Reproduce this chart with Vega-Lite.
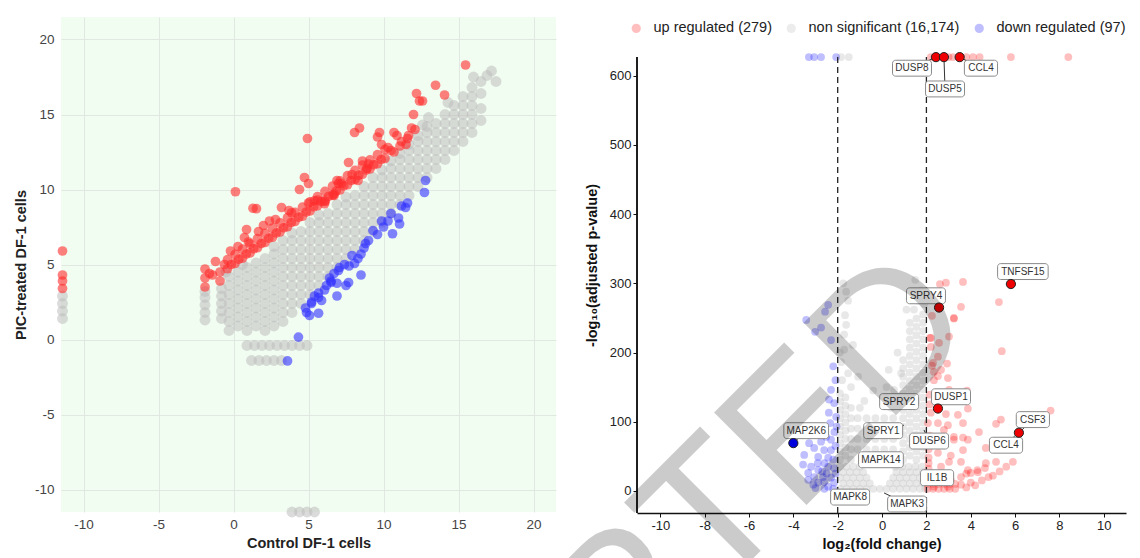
{
"$schema":"https://vega.github.io/schema/vega-lite/v6.json",
"padding":{"left":13,"top":17,"right":5,"bottom":5},
"background":"#ffffff",
"config":{"font":"Liberation Sans","concat":{"spacing":81},"axis":{"labelFont":"Liberation Sans","titleFont":"Liberation Sans"},"legend":{"labelFont":"Liberation Sans"}},
"resolve":{"scale":{"color":"independent"},"legend":{"color":"independent"}},
"bounds":"flush",
"datasets":{
"lg":[
{"x":-0.3,"y":0.6},{"x":-0.3,"y":1.2},{"x":-0.3,"y":1.8},{"x":-0.3,"y":2.4},{"x":-0.3,"y":3.0},{"x":-0.3,"y":3.6},{"x":-0.3,"y":4.2},
{"x":0.3,"y":0.9},{"x":0.3,"y":1.5},{"x":0.3,"y":2.1},{"x":0.3,"y":2.7},{"x":0.3,"y":3.3},{"x":0.3,"y":3.9},{"x":0.3,"y":4.5},
{"x":0.9,"y":0.6},{"x":0.9,"y":1.2},{"x":0.9,"y":1.8},{"x":0.9,"y":2.4},{"x":0.9,"y":3.0},{"x":0.9,"y":3.6},{"x":0.9,"y":4.2},{"x":0.9,"y":4.8},
{"x":1.5,"y":0.9},{"x":1.5,"y":1.5},{"x":1.5,"y":2.1},{"x":1.5,"y":2.7},{"x":1.5,"y":3.3},{"x":1.5,"y":3.9},{"x":1.5,"y":4.5},{"x":1.5,"y":5.1},
{"x":2.1,"y":0.6},{"x":2.1,"y":1.2},{"x":2.1,"y":1.8},{"x":2.1,"y":2.4},{"x":2.1,"y":3.0},{"x":2.1,"y":3.6},{"x":2.1,"y":4.2},{"x":2.1,"y":4.8},{"x":2.1,"y":5.4},
{"x":2.7,"y":0.9},{"x":2.7,"y":1.5},{"x":2.7,"y":2.1},{"x":2.7,"y":2.7},{"x":2.7,"y":3.3},{"x":2.7,"y":3.9},{"x":2.7,"y":4.5},{"x":2.7,"y":5.1},{"x":2.7,"y":5.7},{"x":2.7,"y":6.2},
{"x":3.3,"y":1.2},{"x":3.3,"y":1.8},{"x":3.3,"y":2.4},{"x":3.3,"y":3.0},{"x":3.3,"y":3.6},{"x":3.3,"y":4.2},{"x":3.3,"y":4.8},{"x":3.3,"y":5.4},{"x":3.3,"y":6.0},{"x":3.3,"y":6.6},
{"x":3.9,"y":1.8},{"x":3.9,"y":2.4},{"x":3.9,"y":3.0},{"x":3.9,"y":3.6},{"x":3.9,"y":4.2},{"x":3.9,"y":4.8},{"x":3.9,"y":5.4},{"x":3.9,"y":6.0},{"x":3.9,"y":6.6},{"x":3.9,"y":7.1},
{"x":4.5,"y":2.4},{"x":4.5,"y":3.0},{"x":4.5,"y":3.6},{"x":4.5,"y":4.2},{"x":4.5,"y":4.8},{"x":4.5,"y":5.4},{"x":4.5,"y":6.0},{"x":4.5,"y":6.6},{"x":4.5,"y":7.2},
{"x":5.1,"y":3.0},{"x":5.1,"y":3.6},{"x":5.1,"y":4.2},{"x":5.1,"y":4.8},{"x":5.1,"y":5.4},{"x":5.1,"y":6.0},{"x":5.1,"y":6.6},{"x":5.1,"y":7.2},{"x":5.1,"y":7.8},
{"x":5.7,"y":3.6},{"x":5.7,"y":4.2},{"x":5.7,"y":4.8},{"x":5.7,"y":5.4},{"x":5.7,"y":6.0},{"x":5.7,"y":6.6},{"x":5.7,"y":7.2},{"x":5.7,"y":7.8},{"x":5.7,"y":8.3},
{"x":6.3,"y":4.2},{"x":6.3,"y":4.8},{"x":6.3,"y":5.4},{"x":6.3,"y":6.0},{"x":6.3,"y":6.6},{"x":6.3,"y":7.2},{"x":6.3,"y":7.8},{"x":6.3,"y":8.4},
{"x":6.9,"y":4.8},{"x":6.9,"y":5.4},{"x":6.9,"y":6.0},{"x":6.9,"y":6.6},{"x":6.9,"y":7.2},{"x":6.9,"y":7.8},{"x":6.9,"y":8.4},{"x":6.9,"y":9.0},
{"x":7.5,"y":5.4},{"x":7.5,"y":6.0},{"x":7.5,"y":6.6},{"x":7.5,"y":7.2},{"x":7.5,"y":7.8},{"x":7.5,"y":8.4},{"x":7.5,"y":9.0},{"x":7.5,"y":9.5},
{"x":8.1,"y":6.0},{"x":8.1,"y":6.6},{"x":8.1,"y":7.2},{"x":8.1,"y":7.8},{"x":8.1,"y":8.4},{"x":8.1,"y":9.0},{"x":8.1,"y":9.6},
{"x":8.7,"y":6.6},{"x":8.7,"y":7.2},{"x":8.7,"y":7.8},{"x":8.7,"y":8.4},{"x":8.7,"y":9.0},{"x":8.7,"y":9.6},{"x":8.7,"y":10.2},
{"x":9.3,"y":7.2},{"x":9.3,"y":7.8},{"x":9.3,"y":8.4},{"x":9.3,"y":9.0},{"x":9.3,"y":9.6},{"x":9.3,"y":10.2},{"x":9.3,"y":10.8},
{"x":9.9,"y":7.8},{"x":9.9,"y":8.4},{"x":9.9,"y":9.0},{"x":9.9,"y":9.6},{"x":9.9,"y":10.2},{"x":9.9,"y":10.8},{"x":9.9,"y":11.3},
{"x":10.5,"y":8.4},{"x":10.5,"y":9.0},{"x":10.5,"y":9.6},{"x":10.5,"y":10.2},{"x":10.5,"y":10.8},{"x":10.5,"y":11.4},{"x":10.5,"y":11.9},
{"x":11.1,"y":9.0},{"x":11.1,"y":9.6},{"x":11.1,"y":10.2},{"x":11.1,"y":10.8},{"x":11.1,"y":11.4},{"x":11.1,"y":12.0},{"x":11.1,"y":12.4},
{"x":11.7,"y":9.6},{"x":11.7,"y":10.2},{"x":11.7,"y":10.8},{"x":11.7,"y":11.4},{"x":11.7,"y":12.0},{"x":11.7,"y":12.6},{"x":11.7,"y":13.0},
{"x":12.3,"y":10.2},{"x":12.3,"y":10.8},{"x":12.3,"y":11.4},{"x":12.3,"y":12.0},{"x":12.3,"y":12.6},{"x":12.3,"y":13.2},{"x":12.3,"y":13.6},
{"x":12.9,"y":10.8},{"x":12.9,"y":11.4},{"x":12.9,"y":12.0},{"x":12.9,"y":12.6},{"x":12.9,"y":13.2},{"x":12.9,"y":13.8},{"x":12.9,"y":14.2},
{"x":13.5,"y":11.4},{"x":13.5,"y":12.0},{"x":13.5,"y":12.6},{"x":13.5,"y":13.2},{"x":13.5,"y":13.8},{"x":13.5,"y":14.4},
{"x":14.1,"y":12.0},{"x":14.1,"y":12.6},{"x":14.1,"y":13.2},{"x":14.1,"y":13.8},{"x":14.1,"y":14.4},{"x":14.1,"y":15.0},
{"x":14.7,"y":12.6},{"x":14.7,"y":13.2},{"x":14.7,"y":13.8},{"x":14.7,"y":14.4},{"x":14.7,"y":15.0},{"x":14.7,"y":15.6},
{"x":15.3,"y":13.2},{"x":15.3,"y":13.8},{"x":15.3,"y":14.4},{"x":15.3,"y":15.0},{"x":15.3,"y":15.6},{"x":15.3,"y":16.2},
{"x":15.9,"y":13.8},{"x":15.9,"y":14.4},{"x":15.9,"y":15.0},{"x":15.9,"y":15.6},{"x":15.9,"y":16.2},{"x":15.9,"y":16.8},
{"x":16.5,"y":14.6},{"x":16.5,"y":15.4},{"x":16.5,"y":16.4},{"x":16.5,"y":17.2},
{"x":17.2,"y":17.9},{"x":16.9,"y":17.6},{"x":17.5,"y":17.2},{"x":16.0,"y":17.5},{"x":13.0,"y":14.8},{"x":14.3,"y":15.8},{"x":12.6,"y":14.3},{"x":0.6,"y":5.0},{"x":-0.5,"y":4.5},
{"x":-11.4,"y":1.4},{"x":-11.4,"y":1.9},{"x":-11.4,"y":2.4},{"x":-11.4,"y":2.9},
{"x":-1.9,"y":1.3},{"x":-1.9,"y":1.8},{"x":-1.9,"y":2.3},{"x":-1.9,"y":2.8},{"x":-1.9,"y":3.2},
{"x":-0.8,"y":1.4},{"x":-0.8,"y":1.9},{"x":-0.8,"y":2.4},{"x":-0.8,"y":2.9},{"x":-0.8,"y":3.4},
{"x":0.9,"y":-0.4},{"x":1.4,"y":-0.4},{"x":1.9,"y":-0.4},{"x":2.4,"y":-0.4},{"x":2.9,"y":-0.4},{"x":3.4,"y":-0.4},{"x":3.9,"y":-0.4},{"x":4.4,"y":-0.4},{"x":4.9,"y":-0.4},
{"x":1.2,"y":-1.4},{"x":1.7,"y":-1.4},{"x":2.2,"y":-1.4},{"x":2.7,"y":-1.4},{"x":3.2,"y":-1.4},
{"x":3.9,"y":-11.5},{"x":4.4,"y":-11.5},{"x":4.9,"y":-11.5},{"x":5.4,"y":-11.5}
],
"lr":[
{"x":-11.4,"y":3.4},{"x":-11.4,"y":3.9},{"x":-11.4,"y":4.3},{"x":-11.4,"y":5.9},
{"x":-1.9,"y":3.5},{"x":-1.9,"y":4.1},{"x":-1.9,"y":4.7},{"x":-1.6,"y":4.4},{"x":-0.9,"y":3.9},{"x":-0.9,"y":4.5},{"x":-0.6,"y":5.0},{"x":-1.2,"y":5.2},{"x":-1.4,"y":4.3},
{"x":0.13,"y":9.85},{"x":1.53,"y":8.72},{"x":1.3,"y":8.75},{"x":0.87,"y":7.33},{"x":1.67,"y":7.2},{"x":0.73,"y":6.8},{"x":3.2,"y":8.8},{"x":2.8,"y":8.0},{"x":3.87,"y":8.45},
{"x":4.73,"y":10.8},{"x":5.0,"y":10.4},{"x":4.4,"y":10.0},{"x":5.0,"y":9.1},{"x":5.6,"y":9.3},{"x":6.1,"y":9.2},{"x":6.7,"y":9.6},{"x":7.0,"y":10.4},{"x":7.67,"y":11.8},
{"x":15.47,"y":18.3},{"x":13.47,"y":16.95},{"x":14.07,"y":16.3},{"x":12.2,"y":16.4},{"x":12.4,"y":15.9},{"x":12.6,"y":15.9},{"x":12.0,"y":15.0},{"x":11.87,"y":14.1},{"x":11.67,"y":13.6},
{"x":4.93,"y":13.4},{"x":8.4,"y":14.1},{"x":8.07,"y":13.8},{"x":9.73,"y":13.8},{"x":9.6,"y":13.5},{"x":10.7,"y":13.8},{"x":10.9,"y":13.6},{"x":9.87,"y":13.0},{"x":10.3,"y":12.8},
{"x":8.6,"y":11.9},{"x":9.0,"y":11.7},{"x":8.9,"y":11.4},{"x":6.9,"y":10.6},{"x":7.2,"y":10.4},{"x":7.9,"y":11.0},{"x":8.3,"y":10.6},{"x":3.7,"y":8.6},{"x":5.4,"y":9.25},{"x":6.07,"y":9.05},{"x":6.7,"y":9.7},
{"x":2.0,"y":7.6},{"x":2.4,"y":7.9},{"x":0.3,"y":6.2},{"x":-0.2,"y":5.9},{"x":1.0,"y":6.5},{"x":11.2,"y":13.2},{"x":10.5,"y":12.6},{"x":11.5,"y":13.0},
{"x":-0.4,"y":4.72},{"x":-0.4,"y":5.32},{"x":0.1,"y":5.07},{"x":0.1,"y":5.67},{"x":0.6,"y":5.42},{"x":0.6,"y":6.02},{"x":1.1,"y":5.77},{"x":1.1,"y":6.37},
{"x":1.6,"y":6.12},{"x":1.6,"y":6.72},{"x":2.1,"y":6.47},{"x":2.1,"y":7.07},{"x":2.6,"y":6.82},{"x":2.6,"y":7.42},{"x":3.1,"y":7.17},{"x":3.1,"y":7.77},
{"x":3.6,"y":7.52},{"x":3.6,"y":8.12},{"x":4.1,"y":7.87},{"x":4.1,"y":8.47},{"x":4.6,"y":8.22},{"x":4.6,"y":8.82},{"x":5.1,"y":8.57},{"x":5.1,"y":9.17},
{"x":5.6,"y":8.92},{"x":5.6,"y":9.52},{"x":6.1,"y":9.27},{"x":6.1,"y":9.87},{"x":6.6,"y":9.62},{"x":6.6,"y":10.22},{"x":7.1,"y":9.97},{"x":7.1,"y":10.57},
{"x":7.6,"y":10.32},{"x":7.6,"y":10.92},{"x":8.1,"y":10.67},{"x":8.1,"y":11.27},{"x":8.6,"y":11.02},{"x":8.6,"y":11.62},{"x":9.1,"y":11.37},{"x":9.1,"y":11.97},
{"x":9.6,"y":11.72},{"x":9.6,"y":12.32},{"x":10.1,"y":12.07},{"x":10.1,"y":12.67},{"x":10.7,"y":12.5},{"x":11.1,"y":12.9},{"x":11.6,"y":13.4},{"x":12.1,"y":14.0},
{"x":-0.15,"y":5.0},{"x":0.35,"y":5.35},{"x":0.85,"y":5.7},{"x":1.35,"y":6.05},{"x":1.85,"y":6.4},{"x":2.35,"y":6.75},{"x":2.85,"y":7.1},{"x":3.35,"y":7.45},{"x":3.85,"y":7.8},{"x":4.35,"y":8.15},
{"x":4.85,"y":8.5},{"x":5.35,"y":8.85},{"x":5.85,"y":9.2},{"x":6.35,"y":9.55},{"x":6.85,"y":9.9},{"x":7.35,"y":10.25},{"x":7.85,"y":10.6},{"x":8.35,"y":10.95},{"x":8.85,"y":11.3},{"x":9.35,"y":11.65},{"x":9.85,"y":12.0}
],
"lb":[
{"x":12.8,"y":10.6},{"x":12.73,"y":9.8},{"x":11.6,"y":9.1},{"x":11.47,"y":8.8},{"x":11.2,"y":8.9},{"x":10.5,"y":8.4},{"x":11.0,"y":8.1},{"x":10.3,"y":7.9},{"x":9.87,"y":7.9},
{"x":10.6,"y":7.05},{"x":11.07,"y":7.7},{"x":9.3,"y":7.26},{"x":9.0,"y":6.6},{"x":8.7,"y":6.1},{"x":8.5,"y":5.7},{"x":8.3,"y":5.4},{"x":8.07,"y":5.07},{"x":7.7,"y":4.9},
{"x":7.07,"y":4.8},{"x":6.7,"y":4.4},{"x":6.4,"y":4.1},{"x":8.5,"y":4.3},{"x":6.5,"y":3.8},{"x":6.9,"y":3.75},{"x":7.5,"y":3.6},{"x":7.67,"y":3.8},{"x":6.07,"y":3.3},
{"x":5.67,"y":2.8},{"x":5.2,"y":2.4},{"x":5.87,"y":2.6},{"x":6.9,"y":2.9},{"x":4.87,"y":1.8},{"x":5.07,"y":1.6},{"x":5.67,"y":1.75},{"x":4.33,"y":0.16},{"x":3.6,"y":-1.43},
{"x":7.0,"y":4.6},{"x":6.5,"y":3.9},{"x":5.67,"y":3.1},{"x":5.2,"y":2.5},{"x":9.6,"y":7.0},{"x":10.0,"y":7.5},{"x":8.8,"y":6.4},{"x":7.9,"y":5.6},{"x":7.4,"y":5.0},{"x":6.2,"y":3.6},{"x":5.4,"y":2.9},{"x":4.8,"y":2.1}
],
"rg":[
{"x":-1.9,"y":3},{"x":-1.6,"y":3},{"x":-1.3,"y":3},{"x":-1.0,"y":3},{"x":-0.7,"y":3},{"x":-0.4,"y":3},{"x":-0.1,"y":3},{"x":0.2,"y":3},{"x":0.5,"y":3},{"x":0.8,"y":3},{"x":1.1,"y":3},{"x":1.4,"y":3},{"x":1.7,"y":3},{"x":1.95,"y":3},
{"x":-1.75,"y":11},{"x":-1.45,"y":11},{"x":-1.15,"y":11},{"x":-0.85,"y":11},{"x":-0.55,"y":11},{"x":0.35,"y":11},{"x":0.65,"y":11},{"x":0.95,"y":11},{"x":1.25,"y":11},{"x":1.55,"y":11},{"x":1.85,"y":11},
{"x":-1.9,"y":19},{"x":-1.6,"y":19},{"x":-1.3,"y":19},{"x":-1.0,"y":19},{"x":-0.7,"y":19},{"x":0.5,"y":19},{"x":0.8,"y":19},{"x":1.1,"y":19},{"x":1.4,"y":19},{"x":1.7,"y":19},{"x":1.95,"y":19},
{"x":-1.75,"y":27},{"x":-1.45,"y":27},{"x":-1.15,"y":27},{"x":-0.85,"y":27},{"x":0.65,"y":27},{"x":0.95,"y":27},{"x":1.25,"y":27},{"x":1.55,"y":27},{"x":1.85,"y":27},
{"x":-1.9,"y":35},{"x":-1.6,"y":35},{"x":-1.3,"y":35},{"x":-1.0,"y":35},{"x":0.6,"y":35},{"x":0.9,"y":35},{"x":1.2,"y":35},{"x":1.5,"y":35},{"x":1.8,"y":35},
{"x":-1.9,"y":45},{"x":-1.9,"y":57},{"x":-1.9,"y":69},{"x":-1.9,"y":81},{"x":-1.9,"y":93},{"x":-1.9,"y":105},{"x":-1.9,"y":117},{"x":-1.9,"y":129},{"x":-1.9,"y":141},
{"x":-1.65,"y":51},{"x":-1.65,"y":63},{"x":-1.65,"y":75},{"x":-1.65,"y":87},{"x":-1.65,"y":99},{"x":-1.65,"y":111},{"x":-1.65,"y":123},{"x":-1.65,"y":135},
{"x":-1.4,"y":45},{"x":-1.4,"y":60},{"x":-1.4,"y":75},{"x":-1.4,"y":90},{"x":-1.4,"y":105},{"x":-1.4,"y":120},
{"x":-1.62,"y":288},{"x":-1.67,"y":254},{"x":-1.71,"y":226},{"x":-1.31,"y":211},{"x":-1.85,"y":186},{"x":-1.53,"y":275},{"x":-1.62,"y":240},{"x":-1.71,"y":204},{"x":-1.53,"y":170},{"x":-1.08,"y":165},{"x":-1.8,"y":160},{"x":-1.4,"y":150},{"x":-1.9,"y":200},{"x":-1.75,"y":300},
{"x":-1.1,"y":60},{"x":-0.7,"y":60},{"x":-0.3,"y":60},{"x":0.1,"y":60},{"x":0.5,"y":60},
{"x":-1.1,"y":75},{"x":-0.7,"y":75},{"x":-0.3,"y":75},{"x":0.1,"y":75},{"x":0.5,"y":75},
{"x":-1.1,"y":90},{"x":-0.7,"y":90},{"x":-0.3,"y":90},{"x":0.1,"y":90},{"x":0.5,"y":90},
{"x":-1.1,"y":105},{"x":-0.7,"y":105},{"x":-0.3,"y":105},{"x":0.1,"y":105},{"x":0.5,"y":105},
{"x":-0.8,"y":130},{"x":-0.4,"y":145},{"x":0.2,"y":150},{"x":-1.0,"y":120},{"x":0.4,"y":120},
{"x":0.95,"y":45},{"x":0.95,"y":57},{"x":0.95,"y":69},{"x":0.95,"y":81},{"x":0.95,"y":93},{"x":0.95,"y":105},{"x":0.95,"y":117},{"x":0.95,"y":129},{"x":0.95,"y":141},{"x":0.95,"y":153},{"x":0.95,"y":165},{"x":0.95,"y":177},{"x":0.95,"y":189},
{"x":1.25,"y":51},{"x":1.25,"y":63},{"x":1.25,"y":75},{"x":1.25,"y":87},{"x":1.25,"y":99},{"x":1.25,"y":111},{"x":1.25,"y":123},{"x":1.25,"y":135},{"x":1.25,"y":147},{"x":1.25,"y":159},{"x":1.25,"y":171},{"x":1.25,"y":183},{"x":1.25,"y":195},{"x":1.25,"y":207},{"x":1.25,"y":219},{"x":1.25,"y":231},{"x":1.25,"y":243},
{"x":1.55,"y":45},{"x":1.55,"y":57},{"x":1.55,"y":69},{"x":1.55,"y":81},{"x":1.55,"y":93},{"x":1.55,"y":105},{"x":1.55,"y":117},{"x":1.55,"y":129},{"x":1.55,"y":141},{"x":1.55,"y":153},{"x":1.55,"y":165},{"x":1.55,"y":177},{"x":1.55,"y":189},{"x":1.55,"y":201},{"x":1.55,"y":213},{"x":1.55,"y":225},{"x":1.55,"y":237},{"x":1.55,"y":249},
{"x":1.85,"y":51},{"x":1.85,"y":63},{"x":1.85,"y":75},{"x":1.85,"y":87},{"x":1.85,"y":99},{"x":1.85,"y":111},{"x":1.85,"y":123},{"x":1.85,"y":135},{"x":1.85,"y":147},{"x":1.85,"y":159},{"x":1.85,"y":171},{"x":1.85,"y":183},{"x":1.85,"y":195},{"x":1.85,"y":207},{"x":1.85,"y":219},{"x":1.85,"y":231},{"x":1.85,"y":243},{"x":1.85,"y":255},
{"x":1.44,"y":262},{"x":1.62,"y":275},{"x":1.76,"y":290},{"x":1.3,"y":285},{"x":1.5,"y":305},{"x":1.1,"y":262},{"x":0.86,"y":170},{"x":0.54,"y":146},{"x":0.7,"y":200},{"x":0.3,"y":175},{"x":1.9,"y":270},
{"x":-1.85,"y":627},{"x":-1.5,"y":627}
],
"rr":[
{"x":3.65,"y":302},{"x":2.61,"y":299},{"x":2.88,"y":301},{"x":5.27,"y":273},{"x":3.56,"y":266},{"x":3.24,"y":249},{"x":2.25,"y":253},{"x":2.16,"y":221},{"x":2.2,"y":208},{"x":5.4,"y":202},
{"x":2.52,"y":194},{"x":2.93,"y":184},{"x":2.25,"y":181},{"x":2.52,"y":166},{"x":2.34,"y":172},{"x":3.83,"y":145},{"x":3.87,"y":119},{"x":2.15,"y":139},{"x":2.15,"y":125},{"x":2.88,"y":111},
{"x":3.42,"y":110},{"x":2.97,"y":95},{"x":7.6,"y":116},{"x":5.36,"y":103},{"x":5.14,"y":97},{"x":4.37,"y":85},{"x":3.65,"y":77},{"x":3.24,"y":74},{"x":4.68,"y":62},{"x":5.14,"y":42},
{"x":4.68,"y":40},{"x":4.64,"y":33},{"x":3.1,"y":51},{"x":3.65,"y":59},{"x":4.3,"y":30},{"x":4.0,"y":26},{"x":3.8,"y":25},{"x":3.24,"y":250},{"x":2.57,"y":214},{"x":3.02,"y":223},
{"x":2.2,"y":221},{"x":2.3,"y":185},{"x":2.66,"y":175},{"x":2.97,"y":163},{"x":2.34,"y":160},{"x":3.02,"y":146},{"x":2.52,"y":139},{"x":2.2,"y":113},{"x":2.07,"y":98},{"x":2.52,"y":98},
{"x":2.79,"y":88},{"x":3.24,"y":78},{"x":3.65,"y":98},{"x":3.87,"y":74},{"x":2.52,"y":55},{"x":2.66,"y":35},{"x":3.02,"y":42},{"x":3.56,"y":42},{"x":3.87,"y":30},{"x":2.52,"y":16},
{"x":3.1,"y":16},{"x":3.56,"y":20},{"x":4.32,"y":27},{"x":2.34,"y":6},{"x":2.97,"y":6},{"x":3.56,"y":9},
{"x":2.05,"y":3},{"x":2.3,"y":3},{"x":2.55,"y":3},{"x":2.8,"y":3},{"x":3.05,"y":3},{"x":3.3,"y":3},{"x":2.05,"y":10},{"x":2.3,"y":10},{"x":2.55,"y":10},{"x":2.8,"y":10},{"x":3.05,"y":10},{"x":3.3,"y":10},
{"x":2.1,"y":17},{"x":2.35,"y":17},{"x":2.6,"y":17},{"x":2.85,"y":17},{"x":2.1,"y":24},{"x":2.4,"y":24},{"x":2.1,"y":32},{"x":2.1,"y":40},{"x":2.1,"y":48},{"x":2.1,"y":60},{"x":2.2,"y":70},{"x":2.15,"y":80},
{"x":4.0,"y":12},{"x":4.5,"y":15},{"x":5.0,"y":22},{"x":5.3,"y":28},{"x":5.6,"y":35},{"x":5.9,"y":42},{"x":4.8,"y":20},{"x":3.8,"y":5},{"x":4.2,"y":8},
{"x":2.2,"y":627},{"x":3.0,"y":627},{"x":3.2,"y":627},{"x":3.8,"y":627},{"x":4.1,"y":627},{"x":4.4,"y":627},{"x":5.81,"y":627},{"x":8.4,"y":627}
],
"rb":[
{"x":-2.43,"y":269},{"x":-2.57,"y":259},{"x":-3.42,"y":247},{"x":-2.75,"y":236},{"x":-3.02,"y":230},{"x":-2.3,"y":218},{"x":-2.3,"y":146},{"x":-2.39,"y":132},{"x":-2.16,"y":127},{"x":-2.4,"y":113},
{"x":-2.07,"y":107},{"x":-2.34,"y":98},{"x":-2.05,"y":93},{"x":-2.52,"y":78},{"x":-2.3,"y":74},{"x":-2.75,"y":71},{"x":-3.29,"y":69},{"x":-3.06,"y":62},{"x":-2.61,"y":59},{"x":-2.3,"y":59},
{"x":-3.51,"y":52},{"x":-2.88,"y":49},{"x":-2.43,"y":48},{"x":-3.56,"y":38},{"x":-3.2,"y":35},{"x":-2.88,"y":30},{"x":-2.43,"y":35},{"x":-2.16,"y":33},{"x":-3.33,"y":26},{"x":-3.06,"y":20},
{"x":-2.66,"y":20},{"x":-2.3,"y":19},{"x":-2.88,"y":12},{"x":-2.61,"y":13},{"x":-2.16,"y":12},{"x":-2.43,"y":6},{"x":-3.33,"y":16},{"x":-3.1,"y":9},{"x":-2.1,"y":25},{"x":-2.2,"y":45},
{"x":-2.1,"y":65},{"x":-2.15,"y":85},{"x":-2.6,"y":40},{"x":-2.9,"y":40},{"x":-2.7,"y":28},{"x":-2.5,"y":25},{"x":-2.2,"y":3},{"x":-2.6,"y":3},{"x":-3.0,"y":4},{"x":-2.1,"y":160},{"x":-2.2,"y":180},
{"x":-3.3,"y":627},{"x":-3.06,"y":627},{"x":-2.75,"y":627},{"x":-2.07,"y":627}
],
"genes":[
{"label":"MAP2K6","gx":-4.0,"gy":69,"lx":-3.42,"ly":87,"hl":"down"},
{"label":"TNFSF15","gx":5.81,"gy":299,"lx":6.35,"ly":317,"hl":"up"},
{"label":"SPRY4","gx":2.57,"gy":265,"lx":1.98,"ly":282,"hl":"up"},
{"label":"DUSP1","gx":2.52,"gy":119,"lx":3.11,"ly":136,"hl":"up"},
{"label":"CSF3","gx":6.17,"gy":84,"lx":6.8,"ly":103,"hl":"up"},
{"label":"CCL4","gx":6.0,"gy":80,"lx":5.59,"ly":66,"hl":"none"},
{"label":"DUSP8","gx":2.43,"gy":627,"lx":1.35,"ly":611,"hl":"up"},
{"label":"DUSP5","gx":2.79,"gy":627,"lx":2.84,"ly":581,"hl":"up"},
{"label":"CCL4","gx":3.5,"gy":627,"lx":4.46,"ly":611,"hl":"up"},
{"label":"SPRY2","gx":1.31,"gy":117,"lx":0.77,"ly":129,"hl":"none"},
{"label":"SPRY1","gx":0.99,"gy":95,"lx":0.05,"ly":87,"hl":"none"},
{"label":"DUSP6","gx":1.89,"gy":88,"lx":2.12,"ly":72,"hl":"none"},
{"label":"MAPK14","gx":-0.54,"gy":35,"lx":-0.05,"ly":45,"hl":"none"},
{"label":"IL1B","gx":2.16,"gy":30,"lx":2.48,"ly":19,"hl":"none"},
{"label":"MAPK8","gx":-2.16,"gy":1,"lx":-1.44,"ly":-9,"hl":"none"},
{"label":"MAPK3","gx":0.09,"gy":-3,"lx":1.13,"ly":-19,"hl":"none"}
],
"thr":[{"fc":-2},{"fc":2}],
"wm":[{"t":"ACCEPTED"}]
},
"hconcat":[
{
"width":495,"height":495,
"view":{"fill":"#f2fdf2","stroke":null},
"layer":[
{"data":{"name":"lg"},"mark":{"type":"circle","color":"#bdbdbd","opacity":0.55,"size":120},
 "encoding":{
  "x":{"field":"x","type":"quantitative","scale":{"domain":[-11.5,21.5],"nice":false,"zero":false},
   "axis":{"values":[-10,-5,0,5,10,15,20],"labelExpr":"'' + datum.value","grid":true,"gridColor":"#e1e7e1","domain":false,"ticks":false,"labelFontSize":13.5,"labelColor":"#444","labelPadding":5,"titleFontSize":14.5,"titleFontWeight":"bold","titleColor":"#222","titlePadding":6},
   "title":"Control DF-1 cells"},
  "y":{"field":"y","type":"quantitative","scale":{"domain":[-11.5,21.5],"nice":false,"zero":false},
   "axis":{"values":[-10,-5,0,5,10,15,20],"labelExpr":"'' + datum.value","grid":true,"gridColor":"#e1e7e1","domain":false,"ticks":false,"labelFontSize":13.5,"labelColor":"#444","labelPadding":7,"titleFontSize":14.5,"titleFontWeight":"bold","titleColor":"#222","titlePadding":6},
   "title":"PIC-treated DF-1 cells"}}},
{"data":{"name":"lr"},"mark":{"type":"circle","color":"#ff2b2b","opacity":0.6,"size":95},
 "encoding":{"x":{"field":"x","type":"quantitative"},"y":{"field":"y","type":"quantitative"}}},
{"data":{"name":"lb"},"mark":{"type":"circle","color":"#3030ff","opacity":0.6,"size":95},
 "encoding":{"x":{"field":"x","type":"quantitative"},"y":{"field":"y","type":"quantitative"}}},
{"mark":{"type":"rule","strokeDash":[5,4],"color":"#222","strokeWidth":1.4},
 "encoding":{"x":{"datum":-11.5},"y":{"datum":-11.5},"x2":{"datum":21.5},"y2":{"datum":21.5}}}
]
},
{
"width":489,"height":496,
"view":{"fill":"#ffffff","stroke":null},
"layer":[
{"data":{"name":"rg"},"mark":{"type":"circle","opacity":0.3,"size":60},
 "encoding":{
  "x":{"field":"x","type":"quantitative","scale":{"domain":[-11.05,11],"nice":false,"zero":false},
   "axis":{"values":[-10,-8,-6,-4,-2,0,2,4,6,8,10],"labelExpr":"'' + datum.value","grid":false,"domain":true,"domainColor":"#111","domainWidth":1.5,"ticks":true,"tickColor":"#111","tickSize":4,"labelFontSize":13,"labelColor":"#222","labelPadding":2,"titleFontSize":14.5,"titleFontWeight":"bold","titleColor":"#111","titlePadding":5},
   "title":"log₂(fold change)"},
  "y":{"field":"y","type":"quantitative","scale":{"domain":[-32,685],"nice":false,"zero":false},
   "axis":{"values":[0,100,200,300,400,500,600],"grid":false,"domain":false,"ticks":true,"tickColor":"#111","tickSize":4,"labelFontSize":13,"labelColor":"#222","labelPadding":2,"titleFontSize":14.5,"titleFontWeight":"bold","titleColor":"#111","titlePadding":10},
   "title":"-log₁₀(adjusted p-value)"},
  "color":{"datum":"non significant (16,174)","scale":{"domain":["up regulated (279)","non significant (16,174)","down regulated (97)"],"range":["#ff0000","#b4b4b4","#0000ff"]},
   "legend":{"orient":"none","legendX":-8,"legendY":4,"direction":"horizontal","title":null,"labelFontSize":14.5,"labelColor":"#222","symbolType":"circle","symbolSize":85,"symbolOpacity":0.25,"symbolStrokeWidth":0,"labelOffset":10,"columnPadding":12,"padding":0}}}},
{"data":{"name":"rr"},"mark":{"type":"circle","opacity":0.25,"size":60},
 "encoding":{"x":{"field":"x","type":"quantitative"},"y":{"field":"y","type":"quantitative"},"color":{"datum":"up regulated (279)"}}},
{"data":{"name":"rb"},"mark":{"type":"circle","opacity":0.25,"size":60},
 "encoding":{"x":{"field":"x","type":"quantitative"},"y":{"field":"y","type":"quantitative"},"color":{"datum":"down regulated (97)"}}},
{"data":{"name":"thr"},"transform":[{"calculate":"-11.05","as":"ax"},{"calculate":"-32","as":"lo"},{"calculate":"627","as":"hi"}],"mark":{"type":"rule","color":"#111","strokeWidth":1.5},
 "encoding":{"x":{"field":"ax","type":"quantitative"},"y":{"field":"lo","type":"quantitative"},"y2":{"field":"hi"}}},
{"data":{"name":"thr"},"transform":[{"calculate":"-32","as":"lo"},{"calculate":"627","as":"hi"}],"mark":{"type":"rule","strokeDash":[6,4],"color":"#222","strokeWidth":1.3},
 "encoding":{"x":{"field":"fc","type":"quantitative"},"y":{"field":"lo","type":"quantitative"},"y2":{"field":"hi"}}},
{"mark":{"type":"rule","strokeDash":[6,4],"color":"#222","strokeWidth":1.3},"encoding":{"y":{"datum":0}}},
{"data":{"name":"genes"},"mark":{"type":"rule","color":"#333","strokeWidth":1},
 "encoding":{"x":{"field":"gx","type":"quantitative"},"y":{"field":"gy","type":"quantitative"},"x2":{"field":"lx"},"y2":{"field":"ly"}}},
{"data":{"name":"genes"},
 "transform":[{"calculate":"(length(datum.label)*5.8+10)/44.4","as":"hw"},{"calculate":"datum.lx-datum.hw","as":"bx1"},{"calculate":"datum.lx+datum.hw","as":"bx2"},{"calculate":"datum.ly-11.5","as":"by1"},{"calculate":"datum.ly+11.5","as":"by2"}],
 "mark":{"type":"rect","fill":"#ffffff","stroke":"#8a8a8a","strokeWidth":1,"cornerRadius":3},
 "encoding":{"x":{"field":"bx1","type":"quantitative"},"x2":{"field":"bx2"},"y":{"field":"by1","type":"quantitative"},"y2":{"field":"by2"}}},
{"data":{"name":"genes"},"mark":{"type":"text","fontSize":10,"color":"#333","font":"Liberation Sans","align":"center","baseline":"middle"},
 "encoding":{"x":{"field":"lx","type":"quantitative"},"y":{"field":"ly","type":"quantitative"},"text":{"field":"label"}}},
{"data":{"name":"genes"},"transform":[{"filter":"datum.hl==='up'"}],"mark":{"type":"circle","fill":"#ee0000","stroke":"#222","strokeWidth":1,"opacity":1,"size":85},
 "encoding":{"x":{"field":"gx","type":"quantitative"},"y":{"field":"gy","type":"quantitative"}}},
{"data":{"name":"genes"},"transform":[{"filter":"datum.hl==='down'"}],"mark":{"type":"circle","fill":"#0000dd","stroke":"#222","strokeWidth":1,"opacity":1,"size":85},
 "encoding":{"x":{"field":"gx","type":"quantitative"},"y":{"field":"gy","type":"quantitative"}}},
{"data":{"name":"wm"},"transform":[{"calculate":"-13.8","as":"wx"},{"calculate":"-237","as":"wy"}],
 "mark":{"type":"text","fontSize":190,"angle":315,"font":"Liberation Sans","color":"#000000","opacity":0.2,"align":"center","baseline":"middle"},
 "encoding":{"x":{"field":"wx","type":"quantitative"},"y":{"field":"wy","type":"quantitative"},"text":{"field":"t"}}}
]
}
]
}
